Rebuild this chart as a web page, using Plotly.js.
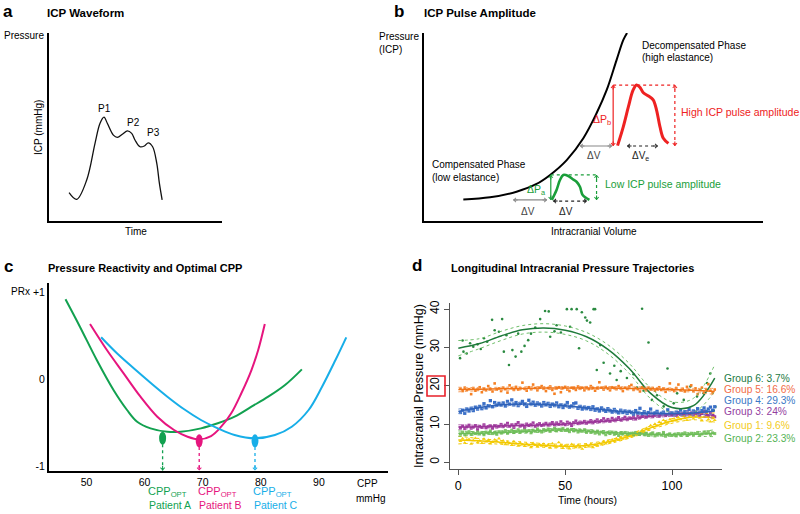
<!DOCTYPE html>
<html><head><meta charset="utf-8">
<script src="https://cdn.plot.ly/plotly-3.0.1.min.js"></script>
<style>html,body{margin:0;padding:0;background:#fff}#chart{width:800px;height:514px}</style>
</head><body><div id="chart"></div>
<script>
// ---------- Panel a: ICP waveform (schematic, 0-100 units) ----------
const waveT = [11.6,16.0,21.8,26.6,29.5,31.8,33.7,37.2,39.5,42.6,45.3,47.8,49.7,52.6,55.1,57.4,59.9,62.3,63.8,65.4];
const waveP = [15.1,11.5,21.8,41.3,52.0,55.2,52.0,45.7,44.5,46.3,47.9,46.6,43.1,39.5,39.9,41.6,39.5,30.7,20.1,11.2];
const peakLabels = ['P1','P2','P3'];

// ---------- Panel b: pressure-volume curve (schematic, 0-100 units) ----------
const pvVolume = [11.6,19.5,27.3,33.2,37.2,42.1,47.0,50.9,53.9,56.8,58.8,59.9];
const pvPressure = [11.5,12.6,15.6,19.7,24.5,32.4,44.0,57.3,69.7,85.6,96.3,100];
const lowPulseV = [37.7,39.1,40.1,41.1,42.6,43.9,45.0,46.0,46.8,48.8];
const lowPulseP = [11.2,16.5,21.8,24.5,23.9,22.2,20.9,18.2,13.8,11.2];
const highPulseV = [57.1,58.8,60.3,61.7,62.7,63.7,64.7,66.2,67.6,68.6,69.6,70.6,72.1];
const highPulseP = [40.1,50.2,60.8,69.7,72.3,71.1,68.2,66.5,64.4,59.0,50.2,44.0,41.3];

// ---------- Panel c: PRx vs CPP ----------
const cppA = [46.39,48.87,51.77,54.65,56.98,58.72,61.02,63.92,66.23,69.70,72.60,75.49,78.39,81.28,84.17,87.07];
const prxA = [0.916,0.601,0.218,-0.126,-0.356,-0.491,-0.567,-0.606,-0.606,-0.567,-0.509,-0.433,-0.318,-0.203,-0.069,0.111];
const cppB = [50.61,53.51,56.39,59.29,62.19,65.07,67.40,69.41,71.44,73.18,74.91,76.65,78.39,79.55,80.69];
const prxB = [0.632,0.333,0.065,-0.203,-0.433,-0.586,-0.663,-0.693,-0.655,-0.548,-0.394,-0.164,0.103,0.333,0.632];
const cppC = [52.52,55.24,58.13,61.02,63.92,66.81,69.70,72.60,75.49,78.96,82.43,85.33,88.23,90.54,92.85,94.71];
const prxC = [0.479,0.295,0.123,-0.043,-0.203,-0.348,-0.471,-0.567,-0.644,-0.682,-0.644,-0.548,-0.356,-0.089,0.218,0.479];
const patients = ['Patient A','Patient B','Patient C'];
const cppOpt = [63.1,69.4,79.0];
const prxOpt = [-0.68,-0.71,-0.71];
const cppTicks = [50,60,70,80,90];

// ---------- Panel d: ICP trajectories ----------
const hours = Array.from({length:120},(_,i)=>i+1);
const g1 = [5.5,6.2,5.1,5.9,6.0,4.8,5.7,6.3,5.2,5.6,5.0,6.1,5.4,5.8,4.9,5.3,5.9,5.5,6.2,5.1,
 5.6,4.7,5.3,5.0,4.5,5.4,4.9,4.3,5.1,4.6,4.2,4.8,4.4,3.9,5.0,4.5,4.1,4.7,4.3,4.8,
 4.2,4.6,3.8,4.9,4.3,4.0,5.2,4.5,3.7,4.4,4.1,3.6,4.7,4.2,3.9,4.5,4.0,3.5,4.3,4.6,
 4.1,4.8,3.9,4.5,4.3,5.0,4.6,5.4,4.9,5.6,5.2,5.9,5.5,6.2,5.8,6.5,6.1,6.9,6.4,7.0,
 6.7,7.4,7.0,7.8,7.5,8.4,8.0,8.9,8.5,9.6,9.2,10.0,9.6,10.5,10.1,11.0,10.6,10.3,11.2,10.8,
 11.4,10.9,11.7,11.2,12.1,11.5,11.0,11.8,12.2,11.4,11.9,12.3,11.6,10.9,11.8,12.0,11.2,10.6,11.5,11.0];
const g2 = [7.4,7.9,7.2,7.6,8.0,7.3,7.7,7.5,8.1,7.4,7.8,7.2,7.9,7.6,8.2,7.5,7.8,7.3,8.0,7.7,
 7.9,8.3,7.6,8.0,8.4,7.8,8.1,8.5,7.9,8.2,8.6,8.0,8.3,7.7,8.4,8.1,8.7,8.2,7.9,8.5,
 8.3,8.7,8.1,8.5,8.9,8.2,8.6,8.4,8.8,8.3,8.5,8.0,8.6,8.2,8.4,7.9,8.3,8.1,8.5,7.8,
 8.2,7.8,8.1,7.6,8.0,7.4,7.9,7.7,7.2,7.8,7.5,7.9,7.3,7.6,7.0,7.7,7.4,7.8,7.2,7.5,
 7.6,7.1,7.8,7.3,7.5,7.9,7.2,7.6,7.0,7.4,7.7,6.9,7.3,7.5,7.1,7.8,6.8,7.2,7.4,7.0,
 7.3,6.9,7.5,7.1,7.4,7.7,7.0,7.3,7.6,7.2,7.5,7.8,7.1,7.4,7.9,7.6,8.0,7.3,7.7,7.5];
const g3 = [9.0,9.5,8.8,9.3,9.7,8.9,9.2,9.6,8.7,9.4,9.1,9.8,9.0,9.3,9.5,8.9,9.6,9.2,9.4,9.9,
 9.3,9.7,10.2,9.4,9.8,9.1,9.9,10.4,9.5,9.7,9.2,10.0,9.6,9.9,10.3,9.4,9.8,10.1,9.6,9.9,
 10.2,9.7,10.0,10.4,9.8,10.3,9.9,10.6,10.1,9.8,10.5,10.2,9.6,10.4,10.8,10.1,10.5,10.3,10.7,10.2,
 10.5,10.9,10.3,10.7,11.1,10.6,10.9,11.4,10.8,11.2,10.7,11.5,11.0,11.3,11.7,11.1,11.4,11.8,11.2,11.6,
 11.5,11.9,11.3,12.2,11.7,12.0,12.4,11.8,12.1,12.6,11.9,12.3,12.7,12.0,12.4,12.8,12.2,12.5,12.9,12.3,
 12.6,12.2,13.0,12.5,12.8,12.3,13.2,12.6,12.9,12.4,13.1,12.7,12.2,12.9,13.4,12.5,12.0,12.8,12.3,11.9];
const g4 = [13.0,13.6,12.8,13.9,13.4,14.1,13.5,14.4,13.9,14.6,14.0,15.3,14.2,14.8,16.1,14.5,15.6,14.9,15.4,15.0,
 15.5,14.7,15.9,15.2,16.3,15.0,15.6,14.8,15.4,15.9,15.1,14.6,16.2,15.3,15.7,14.9,15.5,15.2,14.7,15.6,
 15.0,15.4,14.6,15.2,14.8,15.5,14.5,15.0,14.3,14.9,15.6,14.4,14.7,15.3,15.5,14.1,14.6,13.9,14.4,14.0,
 14.3,13.8,14.5,13.6,14.0,13.4,14.2,13.7,13.3,14.0,13.5,13.1,13.8,13.2,12.9,13.6,13.0,13.4,12.8,13.3,
 13.0,12.6,13.5,12.9,14.1,12.7,13.2,12.5,13.0,13.9,12.6,12.9,13.3,12.4,12.8,13.1,12.5,13.7,12.6,12.9,
 12.4,13.1,12.8,13.6,12.5,13.2,12.9,13.8,12.7,13.4,13.1,14.0,12.9,13.5,14.2,13.3,13.9,14.4,13.6,14.5];
const g5 = [19.2,18.6,19.5,18.9,19.1,17.8,19.4,18.7,19.0,19.6,18.3,19.2,18.8,19.9,19.1,18.5,20.6,19.0,19.3,18.6,
 19.5,19.1,18.2,20.1,19.4,18.9,19.7,19.0,19.3,20.8,19.2,18.7,19.6,19.1,20.3,19.4,18.8,19.5,19.9,19.2,
 18.6,19.4,19.8,18.9,17.9,19.3,19.6,18.3,19.4,19.7,19.0,18.6,19.5,19.3,18.9,19.8,19.2,19.5,18.8,19.6,
 19.1,19.9,19.4,18.7,19.3,20.9,19.5,19.0,19.7,19.2,18.8,19.6,19.4,19.1,19.9,19.3,18.6,19.5,19.2,19.8,
 20.2,18.9,19.4,19.1,18.5,19.6,19.3,18.8,19.5,19.0,19.4,18.7,19.2,19.6,18.9,19.3,18.4,19.1,20.6,19.0,
 18.6,19.4,20.3,18.8,19.2,18.5,19.7,18.9,20.1,18.6,19.3,17.8,18.9,19.5,18.2,19.1,20.4,18.7,18.1,19.0];
const g6Time = [0.8,2.4,3.9,5.5,2,7,9,10.5,12,13.5,15.8,17,19,20.5,21.3,22.5,23.7,25.3,26.8,28,
 29.5,31,32.7,34,36,38.3,40.6,42.3,43,45,46,48,50.8,52.3,53,55.4,56.5,57.8,59.4,60.2,
 61.7,63.3,64,64.8,66.4,68,71,73,74.1,76,78.9,82,83.6,86,86.7,89,90.6,93,96.1,97.9,
 100.8,102.4,105.5,108.6,111.7,114.8,116.4,117.9,119.5,120.3];
const g6 = [27.2,28.9,28.4,31.1,31.8,30.2,30.8,29.6,32.4,31.5,37.2,34.5,34.1,37.4,28.9,33.2,25.4,29.3,27.6,33.6,
 28.9,30.4,31.9,33.6,35.2,37.4,39.5,39.4,32.8,34.2,35.8,33.9,40.0,35.4,40.0,40.0,29.8,39.2,37.8,37.0,
 36.5,40.0,40.0,24.1,30.6,26.0,23.2,25.2,21.5,23.8,22.0,23.0,19.5,40.1,18.7,31.3,16.3,17.5,14.6,24.5,
 15.4,18.0,16.3,19.8,17.2,18.0,20.7,23.2,13.6,14.5];
const fitTime = [0,10,20,30,40,50,60,70,80,90,100,110,120];
const fit1 = [5.8,5.6,5.2,4.8,4.4,4.2,4.4,5.3,6.8,9.0,10.8,11.8,11.7];
const fit2 = [7.5,7.6,7.8,8.0,8.3,8.5,8.2,7.8,7.5,7.3,7.2,7.3,7.6];
const fit3 = [9.2,9.3,9.5,9.6,9.8,10.0,10.4,10.8,11.3,12.0,12.4,12.6,12.3];
const fit4 = [13.3,14.3,15.0,15.2,15.1,14.8,14.2,13.6,13.1,12.8,12.7,12.9,13.4];
const fit5 = [19.0,19.1,19.2,19.3,19.4,19.4,19.4,19.4,19.3,19.2,19.0,18.8,18.5];
const fit6 = [29.8,31.0,33.0,34.6,35.1,34.5,32.8,29.5,24.5,18.0,14.3,14.8,22.0];
const ci1 = [1.0,0.6,0.5,0.5,0.5,0.5,0.5,0.5,0.5,0.5,0.6,0.7,1.2];
const ci2 = [0.7,0.4,0.4,0.4,0.4,0.4,0.4,0.4,0.4,0.4,0.4,0.5,0.9];
const ci3 = [0.6,0.4,0.4,0.4,0.4,0.4,0.4,0.4,0.4,0.4,0.4,0.5,0.8];
const ci4 = [0.6,0.4,0.4,0.4,0.4,0.4,0.4,0.4,0.4,0.4,0.4,0.5,0.8];
const ci5 = [0.6,0.4,0.4,0.4,0.4,0.4,0.4,0.4,0.4,0.4,0.4,0.5,0.8];
const ci6 = [2.0,1.3,1.2,1.1,1.1,1.1,1.1,1.2,1.3,1.4,1.5,1.9,3.5];
const groupLabels = ['Group 6: 3.7%','Group 5: 16.6%','Group 4: 29.3%','Group 3: 24%','Group 1: 9.6%','Group 2: 23.3%'];
const pTicks = [0,10,20,30,40];
const tTicks = [0,50,100];

// ---------- helpers (layout only) ----------
const F = 'Liberation Sans, Arial, Helvetica, sans-serif';
const W = 800, H = 514;
const px = x => x / W, py = y => 1 - y / H;
const ann = [];
const shapes = [];
function txt(t, x, y, o) {
  o = o || {};
  ann.push({text: t, xref: 'paper', yref: 'paper', x: px(x), y: py(y), showarrow: false,
    xanchor: o.xa || 'center', yanchor: 'middle', textangle: o.ang || 0,
    font: {family: F, size: o.size || 10, color: o.color || '#000', weight: o.bold ? 'bold' : 'normal'}});
}
function dtxt(t, x, y, ax, o) {
  o = o || {};
  ann.push({text: t, xref: 'x' + ax, yref: 'y' + ax, x: x, y: y, showarrow: false,
    xanchor: o.xa || 'center', yanchor: 'middle', font: {family: F, size: o.size || 10, color: o.color || '#000'}});
}
function head(x, y, dx, dy, ax, color) {
  ann.push({text: '', xref: 'x' + ax, yref: 'y' + ax, x: x, y: y, ax: dx, ay: dy, showarrow: true,
    arrowhead: 4, arrowsize: 0.75, arrowwidth: 1.1, arrowcolor: color, standoff: 0});
}
function line(x0, y0, x1, y1, ax, color, dash, w) {
  shapes.push({type: 'line', xref: 'x' + ax, yref: 'y' + ax, x0: x0, y0: y0, x1: x1, y1: y1,
    line: {color: color, width: w || 1.2, dash: dash || 'solid'}});
}
function dblH(x0, x1, y, ax, color, dash) {
  line(x0, y, x1, y, ax, color, dash);
  head(x1, y, -6, 0, ax, color); head(x0, y, 6, 0, ax, color);
}
function dblV(x, y0, y1, ax, color, dash, w) {
  line(x, y0, x, y1, ax, color, dash, w);
  head(x, y1, 0, 6, ax, color); head(x, y0, 0, -6, ax, color);
}

const traces = [];
// ----- a -----
traces.push({x: waveT, y: waveP, xaxis: 'x', yaxis: 'y', mode: 'lines', line: {color: '#111', width: 1.3, shape: 'spline'}});
// ----- b -----
traces.push({x: pvVolume, y: pvPressure, xaxis: 'x2', yaxis: 'y2', mode: 'lines', line: {color: '#000', width: 2, shape: 'spline'}});
traces.push({x: lowPulseV, y: lowPulseP, xaxis: 'x2', yaxis: 'y2', mode: 'lines', line: {color: '#1a9e3a', width: 2.6, shape: 'spline'}});
traces.push({x: highPulseV, y: highPulseP, xaxis: 'x2', yaxis: 'y2', mode: 'lines', line: {color: '#ee2222', width: 3, shape: 'spline'}});
// ----- c -----
const cCols = ['#12a150', '#e6157e', '#17aee8'];
[[cppA, prxA], [cppB, prxB], [cppC, prxC]].forEach((d, i) => {
  traces.push({x: d[0], y: d[1], xaxis: 'x3', yaxis: 'y3', mode: 'lines', line: {color: cCols[i], width: 2, shape: 'spline'}});
});
cppOpt.forEach((c, i) => {
  shapes.push({type: 'circle', xref: 'x3', yref: 'y3', x0: c - 0.6, x1: c + 0.6, y0: prxOpt[i] - 0.075, y1: prxOpt[i] + 0.075,
    fillcolor: cCols[i], line: {color: cCols[i], width: 0}});
  line(c, prxOpt[i] - 0.07, c, -1.05, 3, cCols[i], 'dot', 1.3);
  head(c, -1.05, 0, -6, 3, cCols[i]);
});
// ----- d -----
const dCols = {g1: '#f5cf10', g2: '#80c56a', g3: '#a23ea0', g4: '#3a6fc7', g5: '#f58024', g6: '#2a8a40'};
const groups = [
  {v: g1, col: dCols.g1, sym: 'triangle-up', s: 3.5},
  {v: g2, col: dCols.g2, sym: 'square', s: 3},
  {v: g3, col: dCols.g3, sym: 'square', s: 3},
  {v: g4, col: dCols.g4, sym: 'square', s: 3.3},
  {v: g5, col: dCols.g5, sym: 'square', s: 2.6},
];
traces.push({x: g6Time, y: g6, xaxis: 'x4', yaxis: 'y4', mode: 'markers', marker: {color: dCols.g6, size: 2.6, symbol: 'circle'}});
groups.forEach(g => traces.push({x: hours, y: g.v, xaxis: 'x4', yaxis: 'y4', mode: 'markers', marker: {color: g.col, size: g.s, symbol: g.sym}}));
const fits = [
  {f: fit6, c: ci6, col: '#1e7a3a', cc: '#6fbf6a'}, {f: fit1, c: ci1, col: '#f2c800', cc: '#f2c800'},
  {f: fit2, c: ci2, col: '#6cbc58', cc: '#6cbc58'}, {f: fit3, c: ci3, col: '#9a3598', cc: '#b56ab3'},
  {f: fit4, c: ci4, col: '#2f62b8', cc: '#6f93d0'}, {f: fit5, c: ci5, col: '#f07418', cc: '#f5a060'}];
fits.forEach(g => {
  const up = g.f.map((v, i) => v + g.c[i]), lo = g.f.map((v, i) => v - g.c[i]);
  [up, lo].forEach(b => traces.push({x: fitTime, y: b, xaxis: 'x4', yaxis: 'y4', mode: 'lines',
    line: {color: g.cc, width: 1, dash: 'dot', shape: 'spline'}}));
  traces.push({x: fitTime, y: g.f, xaxis: 'x4', yaxis: 'y4', mode: 'lines', line: {color: g.col, width: 1.5, shape: 'spline'}});
});

// ----- texts -----
txt('a', 8, 11, {size: 17, bold: true}); txt('ICP Waveform', 45, 13, {size: 11.5, bold: true, xa: 'left'});
txt('b', 399, 11, {size: 17, bold: true}); txt('ICP Pulse Amplitude', 422, 13, {size: 11.5, bold: true, xa: 'left'});
txt('c', 8, 266, {size: 17, bold: true}); txt('Pressure Reactivity and Optimal CPP', 46, 268, {size: 11, bold: true, xa: 'left'});
txt('d', 417, 265, {size: 17, bold: true}); txt('Longitudinal Intracranial Pressure Trajectories', 449, 268, {size: 11, bold: true, xa: 'left'});
// a
txt('Pressure', 2, 36, {xa: 'left'}); txt('ICP (mmHg)', 38, 128, {ang: -90}); txt('Time', 136, 232);
const peakPos = [[104, 108], [133, 122], [153, 133]];
peakLabels.forEach((p, i) => txt(p, peakPos[i][0], peakPos[i][1]));
// b
txt('Pressure', 377, 37, {xa: 'left'}); txt('(ICP)', 377, 50, {xa: 'left'}); txt('Intracranial Volume', 594, 232);
txt('Decompensated Phase', 640, 45, {xa: 'left'}); txt('(high elastance)', 640, 57, {xa: 'left'});
txt('Compensated Phase', 430, 165, {xa: 'left'}); txt('(low elastance)', 430, 177, {xa: 'left'});
dblH(26.3, 36.3, 11.2, 2, '#888'); dtxt('ΔV', 30.7, 5.0, 2, {color: '#444'});
dblH(38.1, 48.1, 10.6, 2, '#222', 'dot'); dtxt('ΔV', 41.9, 5.0, 2, {color: '#222'});
dblH(46.0, 55.5, 39.9, 2, '#888'); dtxt('ΔV', 50.1, 34.8, 2, {color: '#444'});
dblH(59.9, 69.0, 39.9, 2, '#222', 'dot'); dtxt('ΔV<sub>e</sub>', 63.9, 34.8, 2, {color: '#222'});
dblV(55.8, 39.9, 72.3, 2, '#ee2222'); dtxt('ΔP<sub>b</sub>', 52.4, 53.5, 2, {color: '#ee2222', size: 10.5});
line(55.8, 72.3, 74.0, 72.3, 2, '#ee2222', 'dot', 1.2); dblV(74.0, 39.9, 72.3, 2, '#ee2222', 'dot');
txt('High ICP pulse amplitude', 679, 112, {xa: 'left', color: '#ee2222', size: 10.5});
dblV(37.4, 11.2, 24.5, 2, '#1a9e3a'); dtxt('ΔP<sub>a</sub>', 33.3, 16.5, 2, {color: '#1a9e3a', size: 10.5});
line(37.4, 24.5, 50.9, 24.5, 2, '#1a9e3a', 'dot', 1.2); dblV(50.9, 11.2, 24.5, 2, '#1a9e3a', 'dot');
txt('Low ICP pulse amplitude', 603, 184, {xa: 'left', color: '#1a9e3a', size: 10.5});
// c
txt('PRx', 9, 291, {xa: 'left'}); txt('CPP', 367, 483); txt('mmHg', 370, 498);
const optX = [146, 196, 251];
patients.forEach((p, i) => {
  txt('CPP<sub>OPT</sub>', optX[i], 492, {color: cCols[i], size: 11, xa: 'left'});
  txt(p, optX[i] + 1, 505, {color: cCols[i], size: 10.5, xa: 'left'});
});
// d
txt('Intracranial Pressure (mmHg)', 419, 386, {ang: -90, size: 12.5});
txt('Time (hours)', 587, 500, {size: 10.5});
const legCols = ['#237a45', '#f26d48', '#3a78c6', '#93409f', '#f3cc1c', '#55b355'];
const legY = [378, 389, 400, 411, 425, 438];
groupLabels.forEach((g, i) => txt(g, 722, legY[i], {xa: 'left', color: legCols[i], size: 10.2}));
shapes.push({type: 'rect', xref: 'paper', yref: 'paper', x0: px(427), x1: px(445), y0: py(396), y1: py(376),
  line: {color: '#e8202a', width: 1.6}});

const baseAx = {showgrid: false, zeroline: false, fixedrange: true};
const schem = Object.assign({}, baseAx, {showline: true, linecolor: '#000', linewidth: 2, showticklabels: false, ticks: ''});
const layout = {
  width: W, height: H, margin: {l: 0, r: 0, t: 0, b: 0}, paper_bgcolor: '#fff', plot_bgcolor: 'rgba(0,0,0,0)',
  showlegend: false, font: {family: F, size: 10, color: '#000'},
  xaxis: Object.assign({}, schem, {domain: [px(49), px(222)], range: [0, 100], anchor: 'y'}),
  yaxis: Object.assign({}, schem, {domain: [py(221), py(33)], range: [0, 100], anchor: 'x'}),
  xaxis2: Object.assign({}, schem, {domain: [px(424), px(763)], range: [0, 100], anchor: 'y2'}),
  yaxis2: Object.assign({}, schem, {domain: [py(221), py(33)], range: [0, 100], anchor: 'x2'}),
  xaxis3: Object.assign({}, schem, {domain: [px(49), px(388)], range: [43.55, 101.89], anchor: 'y3',
    showticklabels: true, tickvals: cppTicks, tickfont: {family: F, size: 10.5}}),
  yaxis3: Object.assign({}, schem, {domain: [py(471), py(283)], range: [-1.057, 1.103], anchor: 'x3',
    showticklabels: true, tickvals: [-1, 0, 1], ticktext: ['-1', '0', '+1'], tickfont: {family: F, size: 10.5}}),
  xaxis4: Object.assign({}, baseAx, {domain: [px(450), px(722)], range: [-3.9, 123.4], anchor: 'y4',
    showline: true, linecolor: '#555', linewidth: 1, ticks: 'outside', ticklen: 5, tickcolor: '#555',
    tickvals: tTicks, tickfont: {family: F, size: 12.5}}),
  yaxis4: Object.assign({}, baseAx, {domain: [py(469), py(303)], range: [-1.75, 41.6], anchor: 'x4',
    showline: true, linecolor: '#555', linewidth: 1, ticks: 'outside', ticklen: 5, tickcolor: '#555',
    tickvals: pTicks, tickangle: -90, tickfont: {family: F, size: 12}}),
  annotations: ann, shapes: shapes
};
Plotly.newPlot('chart', traces, layout, {staticPlot: true, displayModeBar: false});
</script></body></html>
